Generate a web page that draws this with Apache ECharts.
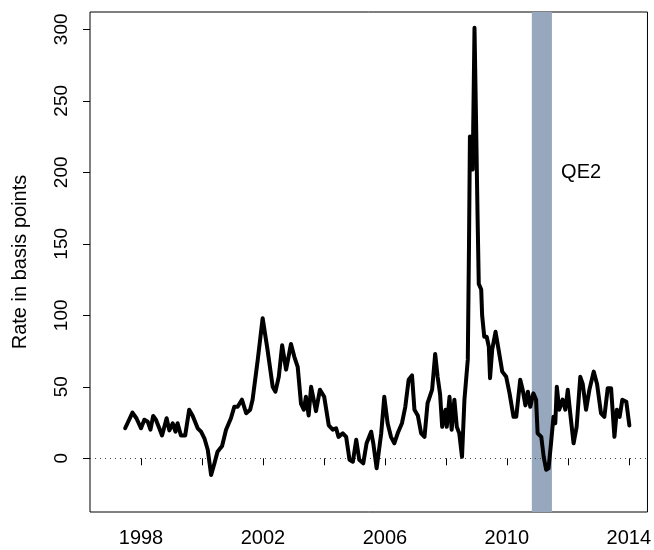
<!DOCTYPE html>
<html>
<head>
<meta charset="utf-8">
<script src="https://cdn.jsdelivr.net/npm/echarts@6/dist/echarts.min.js"></script>
<style>
html,body{margin:0;padding:0;background:#fff;}
#chart{width:654px;height:550px;}
</style>
</head>
<body>
<div id="chart"></div>
<script>
// Decimal-year dates and spread values (basis points)
const dates = [
1997.48,1997.72,1997.85,1998.00,1998.11,1998.22,1998.31,1998.40,1998.49,1998.60,1998.69,1998.84,1998.93,
1999.04,1999.13,1999.20,1999.31,1999.45,1999.58,1999.69,1999.86,1999.97,
2000.08,2000.19,2000.30,2000.41,2000.51,2000.66,2000.79,2000.95,
2001.06,2001.17,2001.31,2001.45,2001.58,2001.66,2001.83,2001.99,
2002.15,2002.32,2002.41,2002.52,2002.63,2002.76,2002.92,
2003.03,2003.14,2003.25,2003.34,2003.41,2003.50,2003.58,2003.74,2003.87,
2004.01,2004.16,2004.29,2004.40,2004.48,2004.62,2004.73,2004.84,2004.95,
2005.06,2005.16,2005.29,2005.40,2005.55,2005.62,2005.73,2005.88,2005.98,
2006.09,2006.20,2006.31,2006.42,2006.56,2006.67,2006.78,2006.89,2006.97,
2007.08,2007.19,2007.30,2007.40,2007.55,2007.65,2007.73,2007.81,2007.88,2007.99,
2008.03,2008.12,2008.19,2008.28,2008.36,2008.44,2008.53,2008.61,2008.72,2008.76,2008.79,2008.82,2008.88,2008.94,2008.99,
2009.04,2009.08,2009.16,2009.19,2009.26,2009.34,2009.41,2009.45,2009.52,2009.63,2009.73,2009.85,2009.98,
2010.09,2010.22,2010.31,2010.44,2010.52,2010.61,2010.69,2010.77,2010.87,2010.96,
2011.01,2011.13,2011.21,2011.29,2011.37,2011.45,2011.53,2011.59,2011.64,2011.72,2011.83,2011.92,
2012.00,2012.08,2012.19,2012.29,2012.41,2012.49,2012.60,2012.71,2012.85,2012.96,
2013.09,2013.20,2013.31,2013.42,2013.53,2013.61,2013.70,2013.79,2013.92,2014.02
];
const values = [
21,32,28,21,27,25.6,20,29.6,27,21,16,28,19.5,
24.5,18.6,24.5,16,16,34,30,21,18.6,
14,6,-11.7,-3.5,4.6,8.6,20,28,
36,36,41,31.5,34,41,69,98,
76,50,46.6,57,79,62,80,
71,64,38,34,43,30,50,33,48,
43,23,20,21,15,17.5,15,-1,-2.4,
13,-1,-3.5,10.5,18.6,10.5,-7,17.5,43,
24.5,15,10.5,17.5,24.5,36,55,58,34,
30,17.5,15,38.5,48,73,57,45,22,34,
22,43,20,41,22,17.5,1,41,69,150,225,226,202,301,237,
170,122,118,100,85,85,78,56,76,88.5,76,60.6,57,
45.4,29,29,55,48,37,46.6,36,45.4,41,
17.5,15,1,-8,-7,10.5,29,24.5,50,34,41,34,
48,31.5,10.5,22,57,52,34,48,60.6,52,
31.5,29,49,49,15,34,29,41,39.6,23
];
const xTicks = [1998,2000,2002,2004,2006,2008,2010,2012,2014];
const xLabels = [1998,2002,2006,2010,2014];
const yTicks = [0,50,100,150,200,250,300];
const qe2 = [2010.82, 2011.48];
const qe2Label = 'QE2';
const qe2LabelPos = [2011.78, 200];

const series = dates.map((d,i)=>[d, values[i]]);
const font = 'Liberation Sans, Arial, Helvetica, sans-serif';

const chart = echarts.init(document.getElementById('chart'), null, {renderer:'canvas'});
chart.setOption({
  animation:false,
  backgroundColor:'#fff',
  grid:{left:90, right:6, top:12, bottom:38, show:true, borderColor:'#000', borderWidth:1, backgroundColor:'transparent'},
  xAxis:{
    type:'value', min:1996.327, max:2014.614,
    axisLine:{show:false},
    splitLine:{show:false},
    axisTick:{show:true, length:7, lineStyle:{color:'#000'}, customValues:xTicks},
    axisLabel:{show:true, customValues:xLabels, color:'#000', fontSize:20, fontFamily:font, margin:16,
      formatter:v=>String(Math.round(v))}
  },
  yAxis:{
    type:'value', min:-37.55, max:312.1,
    name:'Rate in basis points', nameLocation:'middle', nameGap:60, nameRotate:90,
    nameTextStyle:{color:'#000', fontSize:20, fontFamily:font},
    axisLine:{show:false},
    splitLine:{show:false},
    axisTick:{show:true, length:7, lineStyle:{color:'#000'}, customValues:yTicks},
    axisLabel:{show:true, customValues:yTicks, rotate:90, color:'#000', fontSize:19, fontFamily:font, margin:19}
  },
  series:[{
    type:'line',
    data:series,
    showSymbol:false,
    symbol:'none',
    lineStyle:{color:'#000', width:4, join:'round', cap:'round'},
    z:5,
    markArea:{
      silent:true,
      itemStyle:{color:'#97a7be'},
      data:[[{xAxis:qe2[0]},{xAxis:qe2[1]}]]
    },
    markLine:{
      silent:true, symbol:'none',
      label:{show:false},
      lineStyle:{color:'#444', type:[1,4], width:1},
      data:[{yAxis:0}]
    },
    markPoint:{
      silent:true,
      symbol:'circle', symbolSize:0,
      label:{show:true, formatter:qe2Label, position:'right', distance:0, color:'#000', fontSize:20, fontFamily:font},
      data:[{coord:qe2LabelPos}]
    }
  }]
});
</script>
</body>
</html>
